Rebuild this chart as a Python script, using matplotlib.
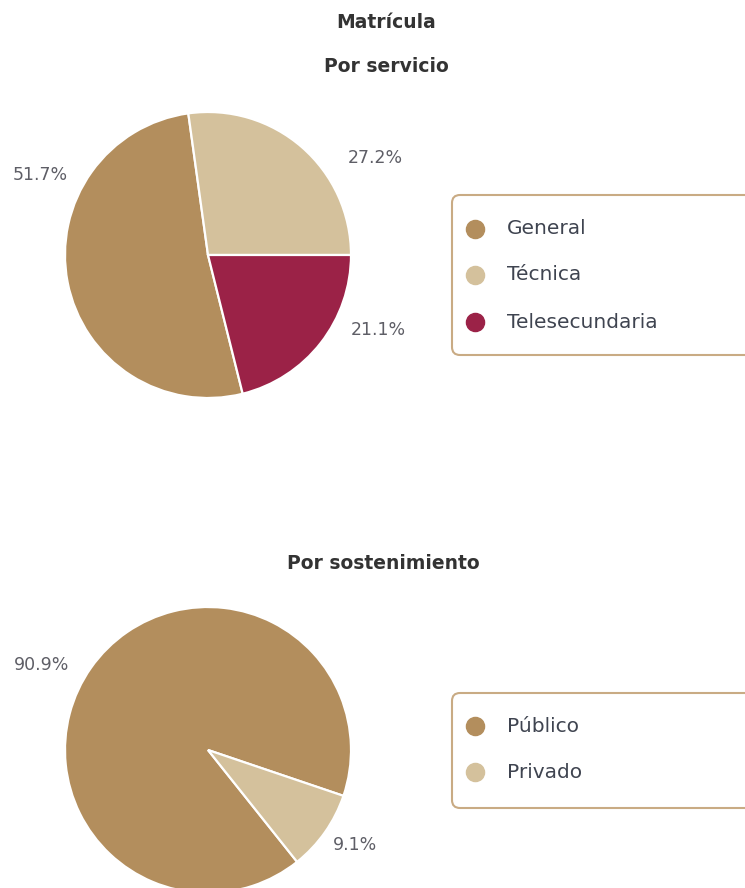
import matplotlib
matplotlib.use("Agg")
import matplotlib.pyplot as plt
from matplotlib.patches import FancyBboxPatch

plt.rcParams['font.family'] = ['DejaVu Sans']

# Data
main_title = "Matrícula"
title_servicio = "Por servicio"
servicio_labels = ["General", "Técnica", "Telesecundaria"]
servicio_values = [51.7, 27.2, 21.1]
title_sost = "Por sostenimiento"
sost_labels = ["Público", "Privado"]
sost_values = [90.9, 9.1]

C_GEN = "#b38e5d"
C_TEC = "#d4c19c"
C_TEL = "#9b2247"
servicio_colors = [C_GEN, C_TEC, C_TEL]
sost_colors = [C_GEN, C_TEC]

W, H = 745, 888
fig = plt.figure(figsize=(W / 100, H / 100), dpi=100)

def px_axes(x0, y0, x1, y1):
    return fig.add_axes([x0 / W, 1 - y1 / H, (x1 - x0) / W, (y1 - y0) / H])

def draw_pie(ax, values, colors, startangle, label_pos):
    wedges, _ = ax.pie(values, colors=colors, startangle=startangle, counterclock=False,
                       radius=1.0, wedgeprops=dict(edgecolor="white", linewidth=1.6))
    for v, (lx, ly) in zip(values, label_pos):
        t = ax.text(lx, ly, f"{v}%", ha="center", va="center", fontsize=12.5,
                    color="#5e5e66")
        t.set_clip_on(False)
    ax.set_xlim(-1, 1)
    ax.set_ylim(-1, 1)
    ax.set_aspect("equal")
    ax.axis("off")

def draw_legend(x0, y0, x1, y1, labels, colors, ys, marker_x, text_x):
    ax = px_axes(x0, y0, x1, y1)
    ax.set_xlim(x0, x1)
    ax.set_ylim(y1, y0)
    ax.axis("off")
    box = FancyBboxPatch((x0 + 2, y0 + 2), (x1 - x0) - 4, (y1 - y0) - 4,
                         boxstyle="round,pad=0,rounding_size=8",
                         facecolor="white", edgecolor="#c9ab84", linewidth=1.5)
    ax.add_patch(box)
    for lab, col, yy in zip(labels, colors, ys):
        ax.scatter([marker_x], [yy], s=170, color=col, zorder=3)
        ax.text(text_x, yy, lab, ha="left", va="center", fontsize=14.5, color="#3f4450")

# Titles
for txt, yy in [(main_title, 23), (title_servicio, 66)]:
    fig.text(386 / W, 1 - yy / H, txt, ha="center", va="center", fontsize=13.5,
             fontweight="bold", color="#333333")
fig.text(383 / W, 1 - 563 / H, title_sost, ha="center", va="center", fontsize=13.5,
         fontweight="bold", color="#333333")

# Pie 1
ax1 = px_axes(65, 112, 351, 398)
start1 = -servicio_values[2] * 3.6
draw_pie(ax1, servicio_values, servicio_colors, start1,
         [(-1.175, 0.56), (1.168, 0.678), (1.189, -0.524)])
draw_legend(450, 193, 800, 357, servicio_labels, servicio_colors,
            [229, 275, 322], 475, 507)

# Pie 2
ax2 = px_axes(65, 607, 351, 893)
start2 = -18.7 - sost_values[1] * 3.6
draw_pie(ax2, sost_values, sost_colors, start2,
         [(-1.161, 0.594), (1.028, -0.664)])
draw_legend(450, 691, 800, 810, sost_labels, sost_colors,
            [726, 772], 475, 507)

fig.savefig("out.png", dpi=100)
